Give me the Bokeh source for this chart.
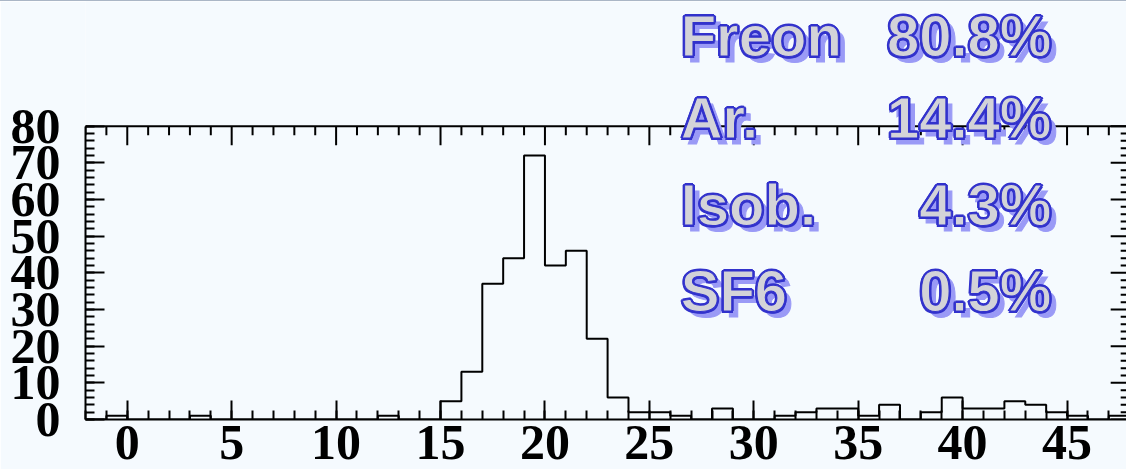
from bokeh.plotting import figure
from bokeh.models import (Range1d, LinearAxis, FixedTicker, Label)
from bokeh.embed import file_html
from bokeh.resources import INLINE

# Histogram: unit-width bins starting at -2
bin_start = -2
counts = [0, 1, 0, 0, 0, 1, 0, 0, 0, 0,
          0, 0, 0, 0, 1, 0, 0, 5, 13, 37,
          44, 72, 42, 46, 22, 6, 2, 2, 1, 0,
          3, 0, 0, 1, 2, 3, 3, 1, 4, 0,
          2, 6, 3, 3, 5, 4, 2, 1, 0, 1]

x_ticks = [0, 5, 10, 15, 20, 25, 30, 35, 40, 45]
y_ticks = [0, 10, 20, 30, 40, 50, 60, 70, 80]

gas_names = ["Freon", "Ar.", "Isob.", "SF6"]
gas_fractions = ["80.8%", "14.4%", "4.3%", "0.5%"]

edges = [bin_start + i for i in range(len(counts) + 1)]
levels = counts + [counts[-1]]

X0, X1 = -2, 48          # histogram frame in x
Y0, Y1 = 0, 80           # histogram frame in y
PX_X = 20.87             # pixels per x unit
PX_Y = 3.666             # pixels per y unit
BG = "#f5fafe"

# The plotting area reaches the top edge so the gas legend above the
# histogram box is not clipped; the box itself ends at y = 80.
p = figure(width=1126, height=469, output_backend="svg", toolbar_location=None,
           x_range=Range1d(X0, 47.847), y_range=Range1d(Y0, 114.0),
           x_axis_location=None, y_axis_location=None,
           min_border_left=85, min_border_right=0,
           min_border_top=0, min_border_bottom=51)
p.background_fill_color = BG
p.border_fill_color = BG
p.outline_line_color = None
p.xgrid.visible = False
p.ygrid.visible = False
p.styles = {"border-top": "1px solid #aab6c6", "box-sizing": "border-box"}

p.step(x=edges, y=levels, mode="after", line_color="black", line_width=2)


def style_axis(ax, size):
    ax.axis_line_color = "black"
    ax.axis_line_width = 2
    ax.major_tick_line_color = "black"
    ax.major_tick_line_width = 2
    ax.minor_tick_line_color = "black"
    ax.minor_tick_line_width = 2
    ax.major_tick_in = 19
    ax.major_tick_out = 0
    ax.minor_tick_in = 9
    ax.minor_tick_out = 0
    ax.major_label_text_font = "Liberation Serif"
    ax.major_label_text_font_style = "bold"
    ax.major_label_text_font_size = size
    ax.major_label_text_color = "black"


x_minor = list(range(X0, X1 + 1))
y_minor = list(range(Y0, Y1 + 1, 2))

xb = LinearAxis(ticker=FixedTicker(ticks=x_ticks, minor_ticks=x_minor))
style_axis(xb, "50px")
xb.major_label_standoff = 6
p.add_layout(xb, "below")

yl = LinearAxis(ticker=FixedTicker(ticks=y_ticks, minor_ticks=y_minor),
                bounds=(Y0, Y1))
style_axis(yl, "50px")
yl.major_label_standoff = 25
p.add_layout(yl, "left")

# Top edge of the box with its inward ticks
maj_len_y, min_len_y = 19 / PX_Y, 9 / PX_Y
maj_len_x, min_len_x = 19 / PX_X, 9 / PX_X
p.segment(x0=[X0], y0=[Y1], x1=[X1], y1=[Y1], line_color="black", line_width=2)
top_minor = [t for t in x_minor if t not in x_ticks]
p.segment(x0=x_ticks, y0=[Y1] * len(x_ticks), x1=x_ticks,
          y1=[Y1 - maj_len_y] * len(x_ticks), line_color="black", line_width=2)
p.segment(x0=top_minor, y0=[Y1] * len(top_minor), x1=top_minor,
          y1=[Y1 - min_len_y] * len(top_minor), line_color="black", line_width=2)

# Right edge ticks
right_minor = [t for t in y_minor if t not in y_ticks]
p.segment(x0=[X1] * len(y_ticks), y0=y_ticks, x1=[X1 - maj_len_x] * len(y_ticks),
          y1=y_ticks, line_color="black", line_width=2)
p.segment(x0=[X1] * len(right_minor), y0=right_minor,
          x1=[X1 - min_len_x] * len(right_minor), y1=right_minor,
          line_color="black", line_width=2)

# Gas mixture legend written over the upper right of the plot
row_y = [104.7, 82.3, 58.6, 35.1]
name_x = 26.5
frac_x = 44.25
txt = dict(text_font="Liberation Sans", text_font_style="bold",
           text_font_size="58px", text_baseline="alphabetic")
ring = [(-2.0, 0), (2.0, 0), (0, -2.0), (0, 2.0),
        (-1.4, -1.4), (1.4, 1.4), (-1.4, 1.4), (1.4, -1.4)]
for name, frac, y in zip(gas_names, gas_fractions, row_y):
    for x, t, align in ((name_x, name, "left"), (frac_x, frac, "right")):
        # drop shadow
        p.add_layout(Label(x=x, y=y, text=t, text_align=align,
                           x_offset=6, y_offset=-6,
                           text_color="#9a9af6", text_outline_color="#9a9af6",
                           **txt))
        # thick blue rim
        for dx, dy in ring:
            p.add_layout(Label(x=x, y=y, text=t, text_align=align,
                               x_offset=dx, y_offset=dy,
                               text_color="#3232cc", **txt))
        # light grey face
        p.add_layout(Label(x=x, y=y, text=t, text_align=align,
                           text_color="#d3d3d8", text_outline_color="#3232cc",
                           **txt))

open("out.html", "w").write(file_html(p, INLINE))
